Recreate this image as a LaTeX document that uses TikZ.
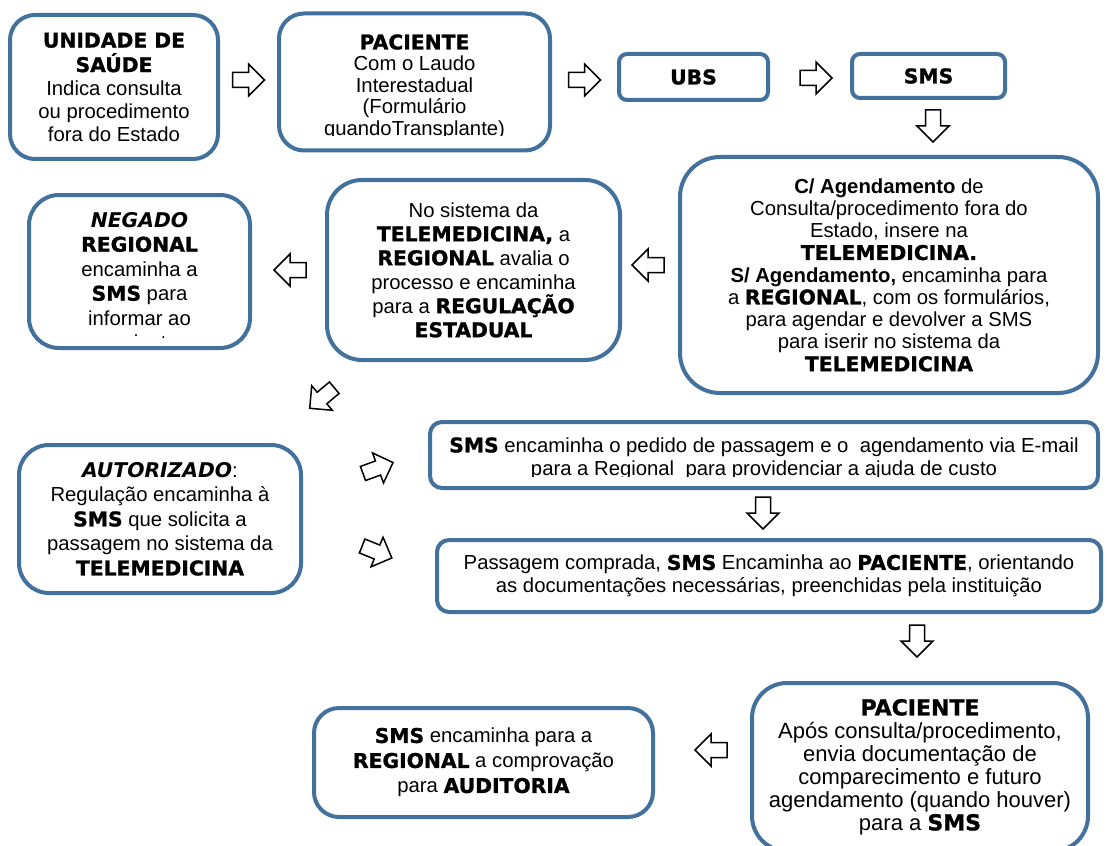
\documentclass[tikz,border=0pt]{standalone}
\usepackage{fontspec}
\setmainfont{Liberation Sans}
\newfontfamily\heavyfont{DejaVu Sans}[BoldFeatures={FakeBold=1.2}]
\usetikzlibrary{positioning,calc}
\definecolor{boxline}{HTML}{41719C}
\newcommand\hv[1]{{\heavyfont\bfseries #1}}
\newcommand\hvit[1]{{\heavyfont\bfseries\itshape #1}}
\tikzset{
  flowbox/.style={draw=boxline, line width=4pt, fill=white, rounded corners=#1},
  flowbox/.default=25pt,
  blk/.pic={\draw[line width=1.5pt, fill=white] (-16,-7.5) -- (0,-7.5) -- (0,-16) -- (16,0)
            -- (0,16) -- (0,7.5) -- (-16,7.5) -- cycle;},
}

\begin{document}
\begin{tikzpicture}[x=1pt, y=-1pt,
  tx/.style={align=center, inner sep=0pt, font={\fontsize{20.3}{#1}\selectfont}},
  tx/.default=22.5]
  \fill[white] (0,0) rectangle (1107,845);
  \useasboundingbox (0,0) rectangle (1107,845);
  % first row
  \node[flowbox, minimum width=208pt, minimum height=144pt, tx=23] (unidade) at (114,87)
    {\hv{UNIDADE DE}\\[1.5pt] \hv{SAÚDE}\\ Indica consulta\\ ou procedimento\\ fora do Estado};
  \node[flowbox, minimum width=271pt, minimum height=137pt] (paciente) at (414.5,82) {};
  \node[flowbox=8pt, minimum width=149pt, minimum height=46pt, tx] (ubs) at (693.5,77) {\hv{UBS}};
  \node[flowbox=8pt, minimum width=153pt, minimum height=44pt, tx] (sms) at (928.5,76) {\hv{SMS}};
  % second row
  \node[flowbox=40pt, minimum width=418pt, minimum height=236pt, tx=22.25] (agenda) at (889,275)
    {{\bfseries C/ Agendamento} de\\ Consulta/procedimento fora do\\ Estado, insere na\\
     \hv{TELEMEDICINA.}\\ {\bfseries S/ Agendamento,} encaminha para\\
     a \hv{REGIONAL}, com os formulários,\\ para agendar e devolver a SMS\\
     para iserir no sistema da\\ \hv{TELEMEDICINA}};
  \node[flowbox=35pt, minimum width=293pt, minimum height=180pt, tx=24] (tele) at (473.5,270)
    {No sistema da\\ \hv{TELEMEDICINA,} a\\ \hv{REGIONAL} avalia o\\ processo e encaminha\\
     para a \hv{REGULAÇÃO}\\ \hv{ESTADUAL}};
  \node[flowbox=30pt, minimum width=221pt, minimum height=153pt] (negado) at (139.5,271.5) {};
  % third row
  \node[flowbox=30pt, minimum width=282pt, minimum height=148pt, tx=24.5] (autorizado) at (160,519)
    {\hvit{AUTORIZADO}:\\ Regulação encaminha à\\ \hv{SMS} que solicita a\\
     passagem no sistema da\\ \hv{TELEMEDICINA}};
  \node[flowbox=12pt, minimum width=668pt, minimum height=66pt] (pedido) at (764,455) {};
  \node[flowbox=12pt, minimum width=664pt, minimum height=72pt, tx=23] (passagem) at (769,576)
    {Passagem comprada, \hv{SMS} Encaminha ao \hv{PACIENTE}, orientando\\
     as documentações necessárias, preenchidas pela instituição};
  % last row
  \node[flowbox=35pt, minimum width=336pt, minimum height=168pt, align=center, inner sep=0pt,
        font={\fontsize{22}{23}\selectfont}] (retorno) at (920,767)
    {\hv{PACIENTE}\\ Após consulta/procedimento,\\ envia documentação de\\
     comparecimento e futuro\\ agendamento (quando houver)\\ para a \hv{SMS}};
  \node[flowbox, minimum width=339pt, minimum height=109pt, tx=25] (auditoria) at (483.5,762.5)
    {\hv{SMS} encaminha para a\\ \hv{REGIONAL} a comprovação\\ para \hv{AUDITORIA}};
  % texts cut off at the foot of their boxes
  \coordinate (pcut) at (0,136);
  \coordinate (ncut) at (0,337);
  \coordinate (ecut) at (0,476);
  \begin{scope}
    \clip (paciente.north west) rectangle (paciente.east |- pcut);
    \node[tx=21.5] (pactext) at (414.5,87)
      {\hv{PACIENTE}\\ Com o Laudo\\ Interestadual\\ (Formulário\\ quandoTransplante)};
  \end{scope}
  \begin{scope}
    \clip (negado.north west) rectangle (negado.east |- ncut);
    \node[tx=24.5] (negtext) at (139.5,283)
      {\hvit{NEGADO}\\ \hv{REGIONAL}\\ encaminha a\\ \hv{SMS} para\\ informar ao\\ paciente};
  \end{scope}
  \begin{scope}
    \clip (pedido.north west) rectangle (pedido.east |- ecut);
    \node[tx=23] (pedtext) at (764,458.5)
      {\hv{SMS} encaminha o pedido de passagem e o\ \ agendamento via E-mail\\
       para a Regional\ \ para providenciar a ajuda de custo};
  \end{scope}
  % block arrows
  \pic at (248.5,80) {blk};
  \pic at (584.5,80) {blk};
  \pic at (816,78) {blk};
  \pic[rotate=-90] at (933,126) {blk};
  \pic[rotate=180] at (648,265) {blk};
  \pic[rotate=180] at (290,270) {blk};
  \pic[rotate=-140] at (322,398) {blk};
  \pic[rotate=20] at (378,468) {blk};
  \pic[rotate=-22] at (377,552) {blk};
  \pic[rotate=-90] at (763,513) {blk};
  \pic[rotate=-90] at (917,641) {blk};
  \pic[rotate=180] at (711,750) {blk};
\end{tikzpicture}
\end{document}
